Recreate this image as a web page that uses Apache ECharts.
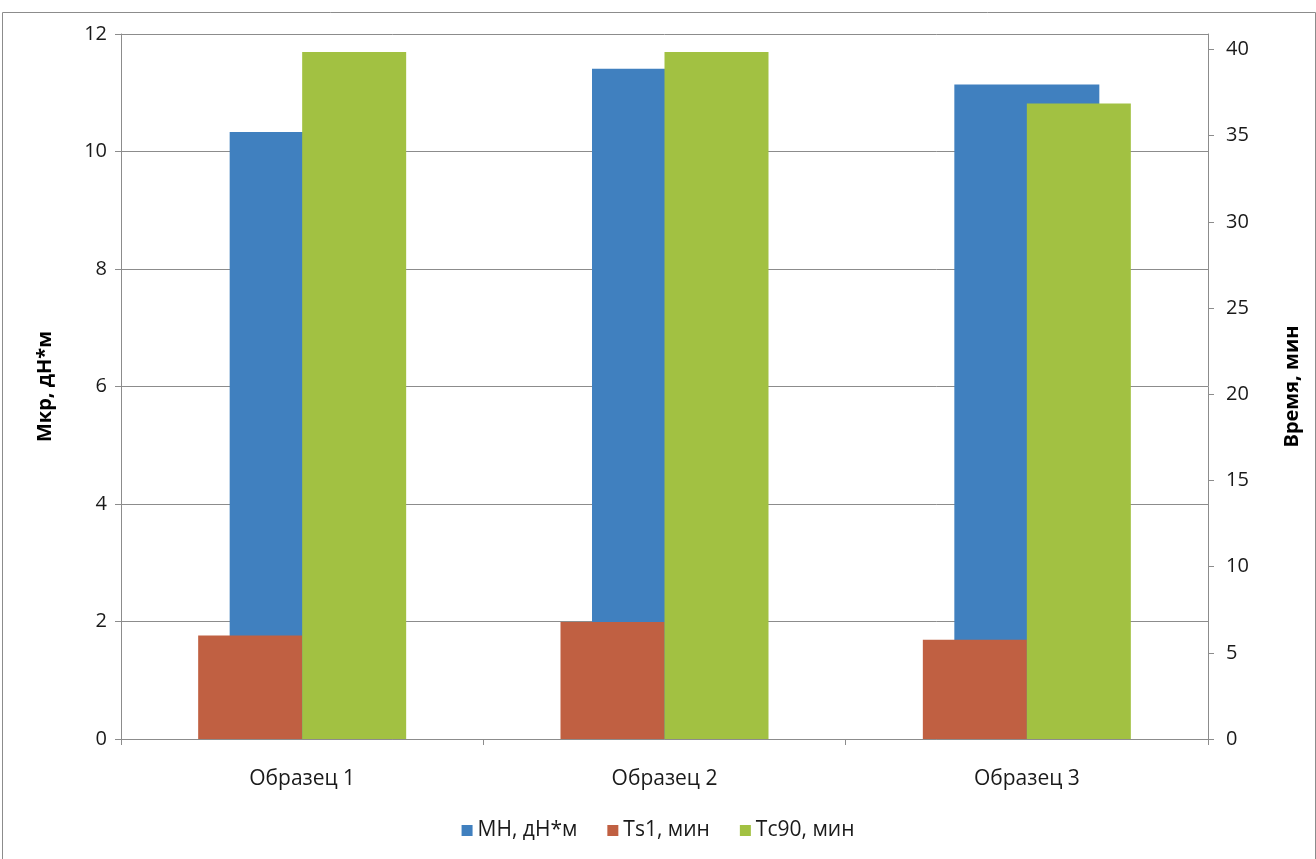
<!DOCTYPE html>
<html>
<head>
<meta charset="utf-8">
<script src="https://cdn.jsdelivr.net/npm/echarts@6/dist/echarts.min.js"></script>
<style>
html,body{margin:0;padding:0;background:#fff;}
#c{width:1316px;height:859px;}
</style>
</head>
<body>
<div id="c"></div>
<script>
const categories = ['Образец 1', 'Образец 2', 'Образец 3'];
const mhValues = [10.33, 11.41, 11.14];
const ts1Values = [6.0, 6.79, 5.76];
const tc90Values = [39.86, 39.86, 36.87];
const seriesNames = ['MH, дН*м', 'Ts1, мин', 'Tc90, мин'];
const leftTicks = [0, 2, 4, 6, 8, 10, 12];
const rightTicks = [0, 5, 10, 15, 20, 25, 30, 35, 40];
const rightMax = 40.9;

const FONT = '"Open Sans", "DejaVu Sans", sans-serif';
const axisGray = '#8c8c8c';
const txt = '#1a1a1a';

const chart = echarts.init(document.getElementById('c'), null, {renderer: 'canvas'});
chart.setOption({
  animation: false,
  backgroundColor: '#fff',
  textStyle: {fontFamily: FONT},
  graphic: [{
    type: 'rect', left: 0, top: 10, silent: true, z: -10,
    shape: {width: 1313, height: 847},
    style: {fill: 'none', stroke: '#8c8c8c', lineWidth: 1}
  }],
  legend: {
    bottom: 13, left: 'center', itemWidth: 11, itemHeight: 11, itemGap: 30,
    icon: 'rect',
    textStyle: {fontFamily: FONT, fontSize: 21, color: txt},
    data: seriesNames
  },
  grid: {left: 121, right: 108, top: 34, bottom: 120},
  xAxis: [{
    type: 'category', data: categories, position: 'bottom',
    axisLine: {lineStyle: {color: axisGray}},
    axisTick: {show: true, length: 6, lineStyle: {color: axisGray}},
    axisLabel: {fontFamily: FONT, fontSize: 21, color: txt, margin: 30}
  }, {
    type: 'category', data: categories, show: false
  }],
  yAxis: [{
    type: 'value', min: 0, max: 12, interval: 2, position: 'left',
    name: 'Мкр, дН*м', nameLocation: 'middle', nameGap: 66, nameRotate: 90,
    nameTextStyle: {fontFamily: FONT, fontSize: 20, fontWeight: 'bold', color: '#000'},
    axisLine: {show: true, lineStyle: {color: axisGray}},
    axisTick: {show: true, length: 6, lineStyle: {color: axisGray}},
    axisLabel: {fontFamily: FONT, fontSize: 20, color: txt, margin: 14},
    splitLine: {show: true, lineStyle: {color: axisGray}}
  }, {
    type: 'value', min: 0, max: rightMax, position: 'right',
    name: 'Время, мин', nameLocation: 'middle', nameGap: 74, nameRotate: 90,
    nameTextStyle: {fontFamily: FONT, fontSize: 20, fontWeight: 'bold', color: '#000'},
    axisLine: {show: true, lineStyle: {color: axisGray}},
    axisTick: {show: true, length: 6, lineStyle: {color: axisGray}, customValues: rightTicks},
    axisLabel: {fontFamily: FONT, fontSize: 20, color: txt, margin: 18, customValues: rightTicks},
    splitLine: {show: false}
  }],
  series: [{
    name: seriesNames[0], type: 'bar', xAxisIndex: 1, yAxisIndex: 0,
    data: mhValues, barWidth: 145, z: 1,
    itemStyle: {color: '#4080bf'}
  }, {
    name: seriesNames[1], type: 'bar', xAxisIndex: 0, yAxisIndex: 1,
    data: ts1Values, barWidth: 104, barGap: '0%', z: 3,
    itemStyle: {color: '#c06042'}
  }, {
    name: seriesNames[2], type: 'bar', xAxisIndex: 0, yAxisIndex: 1,
    data: tc90Values, barWidth: 104, barGap: '0%', z: 3,
    itemStyle: {color: '#a2c142'}
  }]
});
</script>
</body>
</html>
